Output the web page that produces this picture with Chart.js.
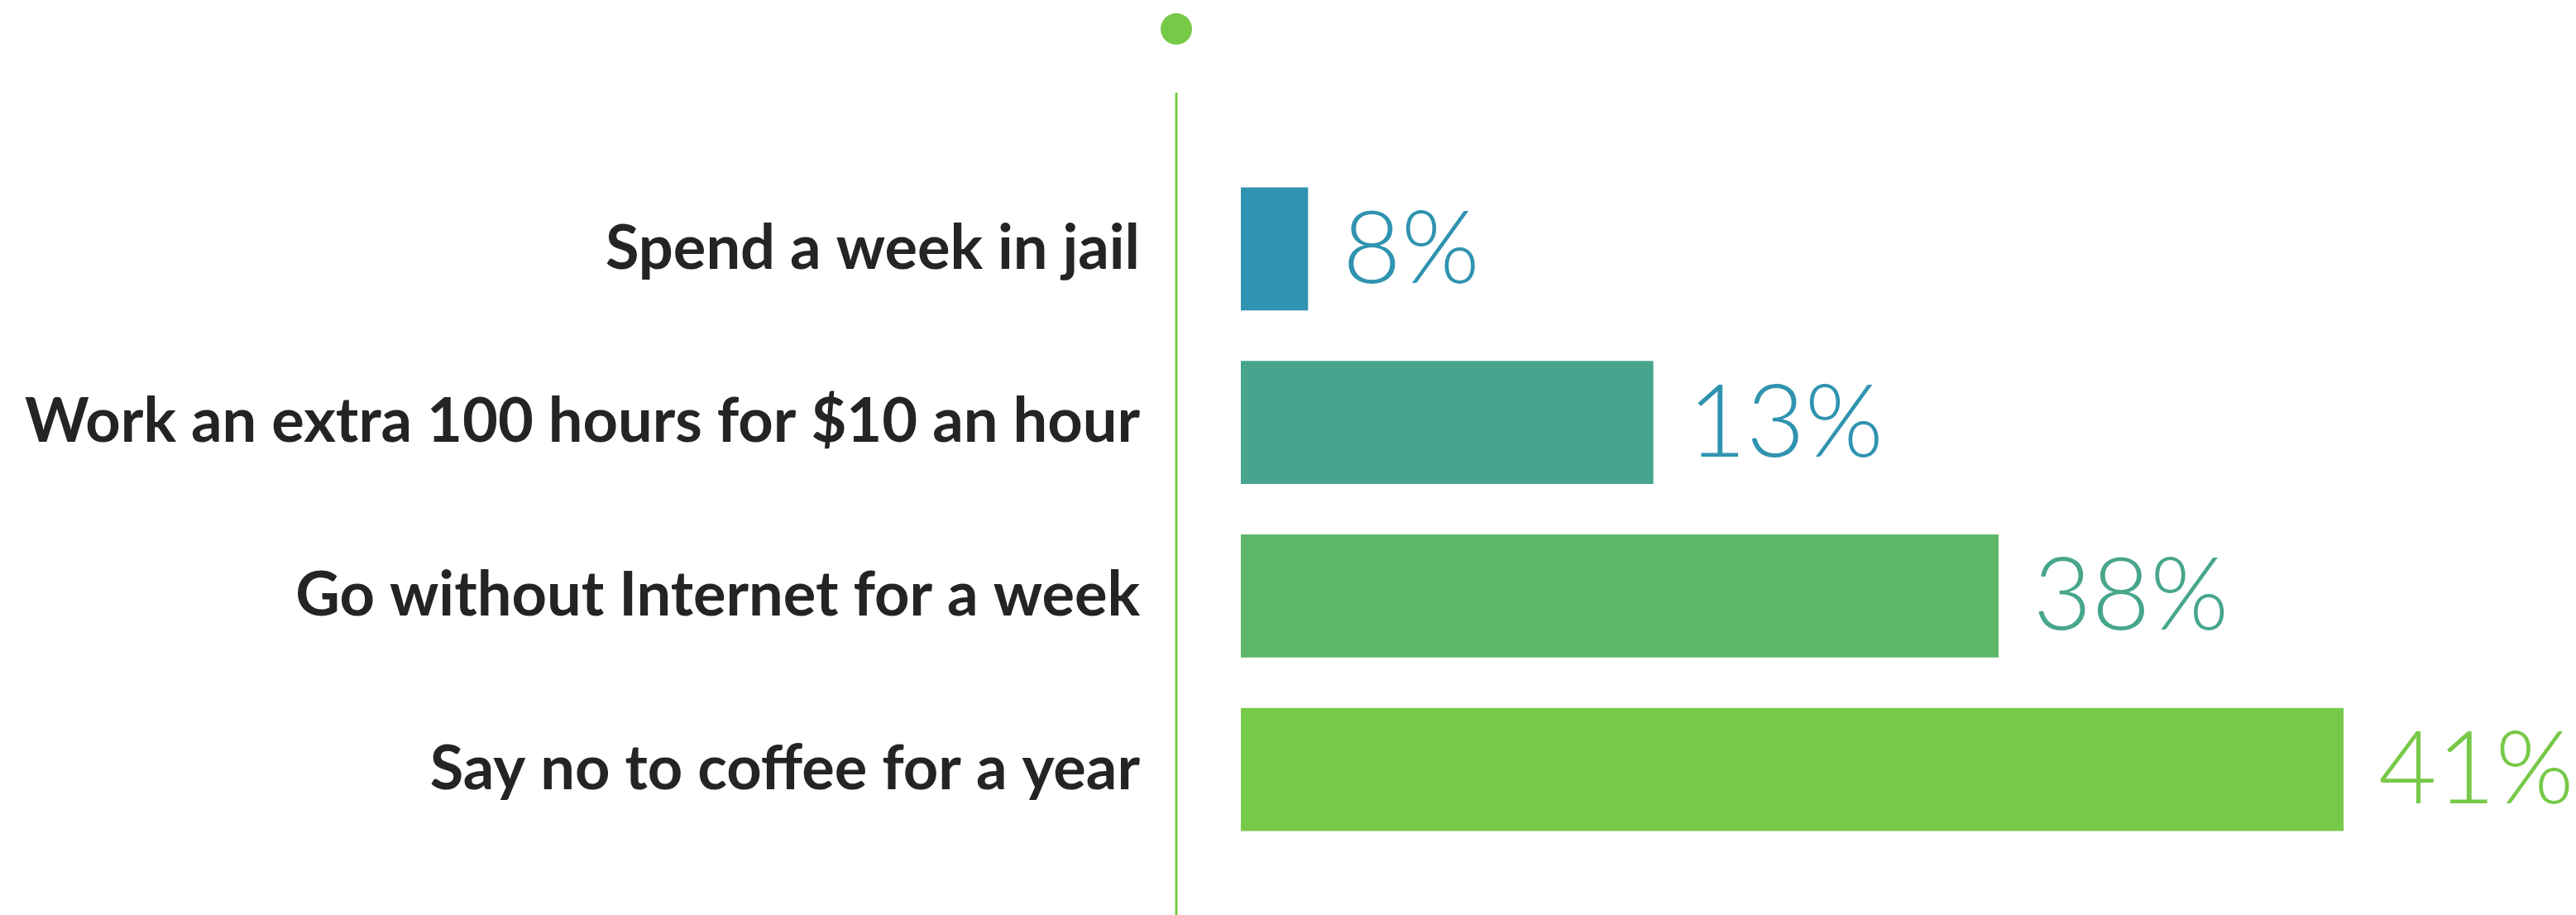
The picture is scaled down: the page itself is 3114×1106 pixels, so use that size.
<!DOCTYPE html>
<html><head><meta charset="utf-8">
<script src="https://cdn.jsdelivr.net/npm/chart.js@4/dist/chart.umd.min.js"></script>
<style>html,body{margin:0;padding:0;background:#fff;overflow:hidden;}</style>
</head><body>
<canvas id="c" width="3114" height="1106"></canvas>
<script>
const categories = [
  "Spend a week in jail",
  "Work an extra 100 hours for $10 an hour",
  "Go without Internet for a week",
  "Say no to coffee for a year"
];
const percentValues = [8, 13, 38, 41];
const valueLabels = percentValues.map(v => v + "%");
const barColors = ["#3093b0", "#47a58d", "#5db86a", "#77c948"];
const labelColors = ["#3093b0", "#3093b0", "#47a68c", "#77c948"];
// In the infographic, bar length follows the rank order of the answers
const barRanks = percentValues.map(v => percentValues.filter(w => w <= v).length);

const accent = "#77c948";

const decorPlugin = {
  id: "decor",
  beforeDraw(chart) {
    const ctx = chart.ctx, a = chart.chartArea;
    const x = a.left - 78;
    ctx.save();
    ctx.strokeStyle = accent;
    ctx.lineWidth = 3;
    ctx.beginPath();
    ctx.moveTo(x, 112);
    ctx.lineTo(x, chart.height);
    ctx.stroke();
    ctx.fillStyle = accent;
    ctx.beginPath();
    ctx.arc(x, 35, 19, 0, Math.PI * 2);
    ctx.fill();
    ctx.restore();
  }
};

const valueLabelPlugin = {
  id: "valueLabels",
  afterDatasetsDraw(chart) {
    const ctx = chart.ctx;
    const meta = chart.getDatasetMeta(0);
    ctx.save();
    ctx.font = "300 122px Lato";
    ctx.textAlign = "left";
    ctx.textBaseline = "alphabetic";
    meta.data.forEach((bar, i) => {
      ctx.fillStyle = labelColors[i];
      ctx.fillText(valueLabels[i], bar.x + 42, bar.y + 41);
    });
    ctx.restore();
  }
};

function draw() {
  new Chart(document.getElementById("c"), {
    type: "bar",
    data: {
      labels: categories,
      datasets: [{
        data: barRanks,
        backgroundColor: barColors,
        borderWidth: 0,
        barThickness: 148
      }]
    },
    options: {
      indexAxis: "y",
      responsive: false,
      animation: false,
      layout: { padding: { top: 196, bottom: 71, left: 0, right: 281 } },
      plugins: { legend: { display: false }, tooltip: { enabled: false } },
      scales: {
        x: { display: false, min: 0.806, max: 4 },
        y: {
          offset: true,
          grid: { display: false },
          border: { display: false },
          ticks: {
            padding: 114,
            color: "#242424",
            font: { family: "Lato", weight: "bold", size: 74 }
          },
          afterFit(scale) {
            scale.width = 1500;
            scale.paddingTop = 0;
            scale.paddingBottom = 0;
          }
        }
      }
    },
    plugins: [decorPlugin, valueLabelPlugin]
  });
}
Promise.all([
  document.fonts.load("bold 74px Lato"),
  document.fonts.load("300 122px Lato")
]).then(draw, draw);
</script>
</body></html>
